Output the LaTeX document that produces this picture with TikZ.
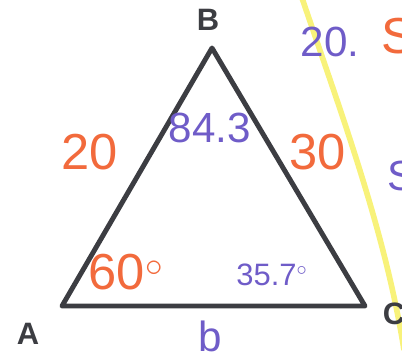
\documentclass[tikz,border=0pt]{standalone}
\usepackage{fontspec}
\setmainfont{Liberation Sans}
\usetikzlibrary{positioning, calc}
\definecolor{TriGray}{HTML}{3C3D42}
\definecolor{PenOrange}{HTML}{F26A3C}
\definecolor{PenPurple}{HTML}{6F5CC8}
\definecolor{PenYellow}{HTML}{F8F27A}
\tikzset{
    % Vertex labels
    vertexlabel/.style={
        font=\fontsize{22}{24}\selectfont\bfseries,
        text=TriGray,
        inner sep=0pt
    },
    % Handwritten notes
    orangenote/.style={
        font=\fontsize{36}{38}\selectfont,
        text=PenOrange,
        inner sep=0pt
    },
    purplenote/.style={
        font=\fontsize{30}{32}\selectfont,
        text=PenPurple,
        inner sep=0pt
    },
    smallnote/.style={
        font=\fontsize{22}{24}\selectfont,
        text=PenPurple,
        inner sep=0pt
    },
    % Triangle sides
    side/.style={
        draw=TriGray,
        line width=3.5pt,
        line join=round,
        line cap=round
    }
}
\begin{document}
\begin{tikzpicture}[x=0.025cm, y=-0.025cm]
    \useasboundingbox (0,0) rectangle (402,355);

    % Highlighter stroke
    \draw[PenYellow, line width=4pt] (301,-5) .. controls (340,110) and (385,230) .. (404,350);

    % Vertices
    \coordinate (A) at (62,306);
    \coordinate (B) at (212,48);
    \coordinate (C) at (365,306);
    \draw[side] (A) -- (B) -- (C) -- cycle;

    % Vertex labels
    \node[vertexlabel] (labA) at (28,334) {A};
    \node[vertexlabel] (labB) at (208,20) {B};
    \node[vertexlabel] (labC) at (394,314) {C};

    % Sides
    \node[orangenote] (sideAB) at (90,152) {20};
    \node[orangenote] (sideBC) at (318,152) {30};
    \node[purplenote] (sideAC) at (210,336) {b};

    % Angles
    \node[purplenote] (angB) at (210,128) {84.3};
    \node[orangenote] (angA) at (126,272) {60$^{\circ}$};
    \node[smallnote] (angC) at (272,275) {35.7$^{\circ}$};

    % Side notes
    \node[purplenote] (note1) at (330,42) {20.};
    \node[orangenote] (note2) at (398,36) {S};
    \node[purplenote] (note3) at (402,176) {S};
\end{tikzpicture}
\end{document}
